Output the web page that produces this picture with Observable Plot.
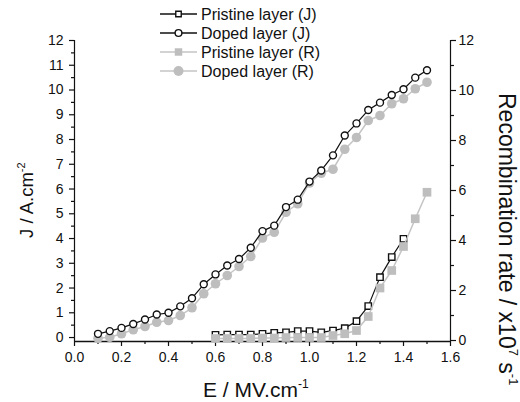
<!DOCTYPE html>
<html><head><meta charset="utf-8">
<script src="https://cdn.jsdelivr.net/npm/d3@7"></script>
<script src="https://cdn.jsdelivr.net/npm/@observablehq/plot@0.6"></script>
<style>html,body{margin:0;padding:0;background:#fff}svg{display:block}</style>
</head><body><div id="chart"></div>
<script>
// ---- data ----
const eDoped = [0.10,0.15,0.20,0.25,0.30,0.35,0.40,0.45,0.50,0.55,0.60,0.65,0.70,0.75,0.80,0.85,0.90,0.95,1.00,1.05,1.10,1.15,1.20,1.25,1.30,1.35,1.40,1.45,1.50];
const jDoped = [0.15,0.26,0.39,0.55,0.73,0.93,1.00,1.26,1.59,2.15,2.55,2.91,3.17,3.63,4.30,4.52,5.27,5.57,6.30,6.75,7.36,8.16,8.65,9.19,9.49,9.80,10.03,10.50,10.80];
const rDoped = [0.09,0.13,0.27,0.43,0.56,0.73,0.80,1.00,1.31,1.87,2.27,2.60,2.96,3.36,4.10,4.33,5.13,5.47,6.30,6.69,6.85,7.65,8.12,8.80,9.00,9.47,9.67,10.07,10.33];
const ePristineJ = [0.60,0.65,0.70,0.75,0.80,0.85,0.90,0.95,1.00,1.05,1.10,1.15,1.20,1.25,1.30,1.35,1.40];
const jPristine = [0.11,0.12,0.12,0.12,0.15,0.19,0.21,0.26,0.26,0.21,0.28,0.38,0.66,1.27,2.44,3.25,3.99];
const ePristineR = [0.60,0.65,0.70,0.75,0.80,0.85,0.90,0.95,1.00,1.05,1.10,1.15,1.20,1.25,1.30,1.35,1.40,1.45,1.50];
const rPristine = [0.08,0.08,0.08,0.08,0.10,0.10,0.12,0.12,0.12,0.12,0.20,0.27,0.40,0.96,2.10,2.80,3.76,4.87,5.93];

const seriesNames = ["Pristine layer (J)","Doped layer (J)","Pristine layer (R)","Doped layer (R)"];
const xTicks = [0,0.2,0.4,0.6,0.8,1.0,1.2,1.4,1.6];
const xMinor = [0.1,0.3,0.5,0.7,0.9,1.1,1.3,1.5];
const yLeftTicks = [0,1,2,3,4,5,6,7,8,9,10,11,12];
const yLeftMinor = [0.5,1.5,2.5,3.5,4.5,5.5,6.5,7.5,8.5,9.5,10.5,11.5];
const yRightTicks = [0,2,4,6,8,10,12];
const yRightMinor = [1,3,5,7,9,11];
const xDomain = [0,1.6];
const yDomain = [-0.16,12];
const rDomain = [0,12];

// ---- styling ----
const FONT = "'Liberation Sans', Arial, Helvetica, sans-serif";
const INK = "#111";
const GRAY = "#bebebe";
const GRAYLINE = "#c4c4c4";

// right axis units (R) -> left axis units (J)
const rToY = d3.scaleLinear(rDomain, [-0.12, 12]);

const jd = eDoped.map((e,i)=>({e, v:jDoped[i]}));
const rd = eDoped.map((e,i)=>({e, v:rToY(rDoped[i])}));
const jp = ePristineJ.map((e,i)=>({e, v:jPristine[i]}));
const rp = ePristineR.map((e,i)=>({e, v:rToY(rPristine[i])}));

const plot = Plot.plot({
  width: 520, height: 402,
  marginLeft: 74, marginRight: 70, marginTop: 40, marginBottom: 61,
  style: {fontFamily: FONT, fontSize: "14px", color: INK, background: "#fff", overflow: "visible"},
  x: {domain: xDomain},
  y: {domain: yDomain},
  marks: [
    // axes
    Plot.axisX(xTicks, {tickSize: 5, tickPadding: 6, tickFormat: d3.format(".1f"), label: null, fontSize: 14, strokeWidth: 1.2}),
    Plot.axisX(xMinor, {tickSize: 3, tickFormat: () => "", label: null, strokeWidth: 1.2}),
    Plot.axisY(yLeftTicks, {anchor: "left", tickSize: 5, tickPadding: 6, label: null, fontSize: 14, strokeWidth: 1.2}),
    Plot.axisY(yLeftMinor, {anchor: "left", tickSize: 3, tickFormat: () => "", label: null, strokeWidth: 1.2}),
    Plot.axisY(yRightTicks.map(rToY), {anchor: "right", tickSize: 5, tickPadding: 3, label: null, fontSize: 14, strokeWidth: 1.2,
      tickFormat: d => String(Math.round(rToY.invert(d)))}),
    Plot.axisY(yRightMinor.map(rToY), {anchor: "right", tickSize: 3, tickFormat: () => "", label: null, strokeWidth: 1.2}),
    Plot.ruleX([xDomain[0]], {y1: yDomain[0], y2: yDomain[1], stroke: INK, strokeWidth: 1.2}),
    Plot.ruleX([xDomain[1]], {y1: yDomain[0], y2: yDomain[1], stroke: INK, strokeWidth: 1.2}),
    Plot.ruleY([yDomain[0]], {x1: xDomain[0], x2: xDomain[1], stroke: INK, strokeWidth: 1.6}),
    // pristine J
    Plot.line(jp, {x: "e", y: "v", stroke: INK, strokeWidth: 1.2}),
    Plot.dot(jp, {x: "e", y: "v", symbol: "square", r: 3.6, fill: "#fff", stroke: INK, strokeWidth: 1.4}),
    // pristine R
    Plot.line(rp, {x: "e", y: "v", stroke: GRAYLINE, strokeWidth: 1.5}),
    Plot.dot(rp, {x: "e", y: "v", symbol: "square", r: 4.9, fill: GRAY, stroke: "none"}),
    // doped R
    Plot.line(rd, {x: "e", y: "v", stroke: GRAYLINE, strokeWidth: 1.5}),
    Plot.dot(rd, {x: "e", y: "v", r: 4.8, fill: GRAY, stroke: "none"}),
    // doped J
    Plot.line(jd, {x: "e", y: "v", stroke: INK, strokeWidth: 1.2}),
    Plot.dot(jd, {x: "e", y: "v", r: 3.5, fill: "#fff", stroke: INK, strokeWidth: 1.4})
  ]
});
document.getElementById("chart").appendChild(plot);

// ---- titles & legend (plain SVG text) ----
const svg = d3.select(plot);
function title(parts, transform, size, supSize) {
  const t = svg.append("text").attr("transform", transform).attr("text-anchor", "start")
    .attr("font-family", FONT).attr("font-size", size).attr("fill", INK);
  parts.forEach(([s, sup]) => {
    if (sup) t.append("tspan").attr("font-size", supSize).attr("baseline-shift", "75%").text(s);
    else t.append("tspan").text(s);
  });
  return t;
}
title([["E / MV.cm"],["-1",true]], "translate(203,397)", 21, 12);
title([["J / A.cm"],["-2",true]], "translate(33,238) rotate(-90)", 18.5, 11);
title([["Recombination rate / x10"],["7",true],[" s"],["-1",true]], "translate(499,93) rotate(90)", 23, 13);

const legend = svg.append("g").attr("font-family", FONT).attr("font-size", 16).attr("fill", INK).attr("text-anchor", "start");
const legendStyles = [
  {stroke: INK, sym: d3.symbolSquare, size: 30, fill: "#fff", mstroke: INK},
  {stroke: INK, sym: d3.symbolCircle, size: 36, fill: "#fff", mstroke: INK},
  {stroke: GRAYLINE, sym: d3.symbolSquare, size: 56, fill: GRAY, mstroke: "none"},
  {stroke: GRAYLINE, sym: d3.symbolCircle, size: 78, fill: GRAY, mstroke: "none"}
];
seriesNames.forEach((name, i) => {
  const y = 14 + i * 19;
  const st = legendStyles[i];
  const g = legend.append("g").attr("transform", `translate(0,${y})`);
  g.append("line").attr("x1", 160).attr("x2", 197).attr("y1", 0).attr("y2", 0)
    .attr("stroke", st.stroke).attr("stroke-width", i < 2 ? 1.4 : 1.6);
  g.append("path").attr("d", d3.symbol(st.sym, st.size)()).attr("transform", "translate(178.5,0)")
    .attr("fill", st.fill).attr("stroke", st.mstroke).attr("stroke-width", 1.4);
  g.append("text").attr("x", 201).attr("y", 0).attr("dy", "0.36em").attr("text-anchor", "start").text(name);
});
</script>
</body></html>
